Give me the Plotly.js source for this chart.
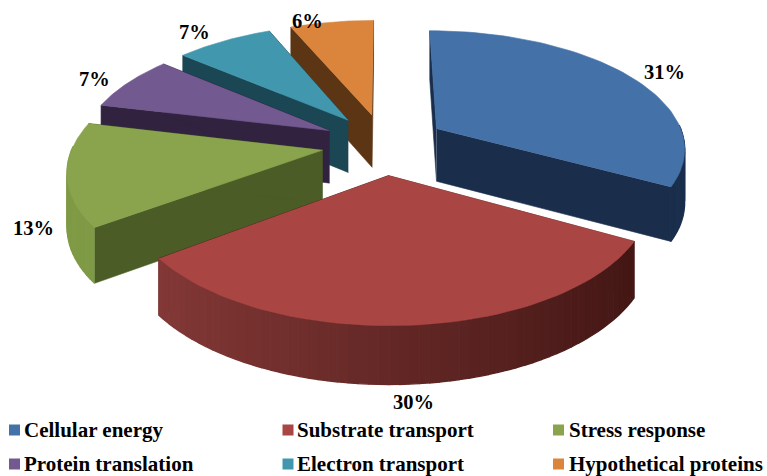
<!DOCTYPE html>
<html><head><meta charset="utf-8">
<script src="https://cdn.plot.ly/plotly-3.0.1.min.js"></script>
<style>html,body{margin:0;padding:0;background:#fff}</style></head>
<body><div id="chart" style="width:767px;height:476px"></div>
<script>
const categories = ["Cellular energy","Substrate transport","Stress response","Protein translation","Electron transport","Hypothetical proteins"];
const values = [31,30,13,7,7,6];
const topColors = ["#4472A8","#A94543","#89A44D","#72598F","#4198AE","#DA843C"];
const cutColors = ["#1A2E4C","#4A1A18","#4B5C27","#31233F","#1B4653","#5C3514"];
const wallDark = ["#1A2E4C","#3E1412","#7F9A45","#2B1F3A","#1B4653","#5C3514"];
const wallLight = ["#1A2E4C","#8A3C3A","#7F9A45","#3D2E50","#27606F","#7A4A1E"];
const labelPos = [[664,72],[413,402],[33,228],[94,79],[194,32],[307,21]];
const legendX = [14.5,288,558.5], legendTextX=[24,297,569], legendY = [430,464];

const cx=384, cy=144, a=249, b=117, k=0.15, ex=0.25, ey=0.26, depth=53;
function project(X,Y,z){const p=1/(1-k*Y);return [cx+a*X*p, cy+b*Y*p+z*depth*Math.sqrt(p)];}
const total=values.reduce((s,v)=>s+v,0);
const traces=[];
function poly(pts,color,w){traces.push({type:"scatter",mode:"lines",x:pts.map(q=>q[0]),y:pts.map(q=>q[1]),fill:"toself",fillcolor:color,line:{color:color,width:w||0.6},hoverinfo:"skip",showlegend:false});}
function mix(c1,c2,t){const h=c=>[1,3,5].map(i=>parseInt(c.substr(i,2),16));const A=h(c1),B=h(c2);return "rgb("+A.map((v,i)=>Math.round(v+(B[i]-v)*t)).join(",")+")";}
let start=0; const slices=values.map((v,i)=>{const s={i,t0:start/total*2*Math.PI,t1:(start+v)/total*2*Math.PI};start+=v;return s;});
const order=[5,4,3,2,0,1];
order.forEach(i=>{
  const s=slices[i],mid=(s.t0+s.t1)/2,ox=ex*Math.sin(mid),oy=-ey*Math.cos(mid);
  const pt=(t,z)=>project(ox+Math.sin(t),oy-Math.cos(t),z);
  const apex=z=>project(ox,oy,z);
  const n=Math.max(8,Math.round((s.t1-s.t0)*30));
  poly([apex(0),pt(s.t0,0),pt(s.t0,1),apex(1)],cutColors[i]);
  poly([apex(0),pt(s.t1,0),pt(s.t1,1),apex(1)],cutColors[i]);
  for(let j=0;j<n;j++){
    const t0=s.t0+(s.t1-s.t0)*j/n,t1=s.t0+(s.t1-s.t0)*(j+1)/n;
    if(Math.cos((t0+t1)/2)>0.05) continue;
    const shade=(1-Math.sin((t0+t1)/2))/2;
    poly([pt(t0,0),pt(t1,0),pt(t1,1),pt(t0,1)],mix(wallDark[i],wallLight[i],shade),1.4);
  }
  const top=[apex(0)];for(let j=0;j<=60;j++)top.push(pt(s.t0+(s.t1-s.t0)*j/60,0));
  poly(top,topColors[i]);
});
const font={family:"Liberation Serif, serif",size:20.5,color:"#000"};
const legendFont={family:"Liberation Serif, serif",size:21,color:"#000"};
const annotations=[],shapes=[];
values.forEach((v,i)=>annotations.push({x:labelPos[i][0],y:labelPos[i][1],xref:"x",yref:"y",text:"<b>"+v+"%</b>",showarrow:false,font}));
categories.forEach((c,i)=>{
  const col=i%3,ly=legendY[Math.floor(i/3)];
  shapes.push({type:"rect",xref:"x",yref:"y",x0:legendX[col]-5.5,x1:legendX[col]+5.5,y0:ly-5.5,y1:ly+5.5,fillcolor:topColors[i],line:{width:0}});
  annotations.push({x:legendTextX[col],y:ly,xref:"x",yref:"y",xanchor:"left",xshift:-2,text:"<b>"+c+"</b>",showarrow:false,font:legendFont});
});
Plotly.newPlot("chart",traces,{width:767,height:476,margin:{l:0,r:0,t:0,b:0},paper_bgcolor:"#fff",plot_bgcolor:"#fff",
 xaxis:{range:[0,767],visible:false,fixedrange:true},yaxis:{range:[476,0],visible:false,fixedrange:true},showlegend:false,annotations,shapes},{displayModeBar:false,staticPlot:true});
</script></body></html>
